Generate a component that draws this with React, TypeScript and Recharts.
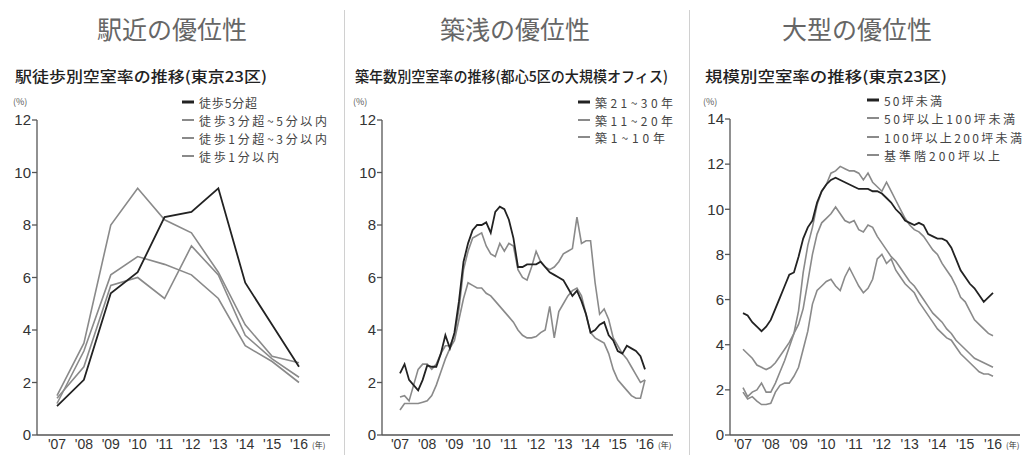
import React from 'react';
import { LineChart, Line, XAxis, YAxis } from 'recharts';

// ---- panel 1: station distance (annual) ----
const walkYears = ["'07", "'08", "'09", "'10", "'11", "'12", "'13", "'14", "'15", "'16"];
const walkOver5 = [1.1, 2.1, 5.4, 6.2, 8.3, 8.5, 9.4, 5.8, 4.2, 2.6];
const walk3to5 = [1.5, 3.5, 8.0, 9.4, 8.2, 7.7, 6.2, 4.2, 3.0, 2.75];
const walk1to3 = [1.4, 2.6, 5.7, 6.0, 5.2, 7.2, 6.1, 3.8, 2.9, 2.2];
const walkIn1 = [1.2, 3.2, 6.1, 6.8, 6.5, 6.1, 5.2, 3.4, 2.8, 2.0];

// ---- panel 2: building age (every 2 months, '07 - '16) ----
const age21to30 = [
  2.35, 2.7, 2.1, 1.9, 1.7, 2.1,
  2.65, 2.6, 2.6, 3.1, 3.8, 3.3,
  3.9, 5.1, 6.6, 7.3, 7.8, 8.0,
  8.0, 8.1, 7.7, 8.5, 8.7, 8.6,
  8.2, 7.5, 6.4, 6.4, 6.5, 6.5,
  6.5, 6.6, 6.4, 6.2, 6.1, 6.0,
  5.9, 5.6, 5.3, 5.5, 5.1, 4.6,
  3.9, 4.0, 4.2, 4.3, 3.8, 3.6,
  3.2, 3.1, 3.4, 3.3, 3.2, 3.0,
  2.5,
];
const age11to20 = [
  1.45, 1.5, 1.3, 1.9, 2.5, 2.7,
  2.7, 2.5, 2.7, 3.1, 3.4, 3.4,
  3.8, 4.8, 6.3, 7.0, 7.5, 7.6,
  7.7, 7.2, 6.9, 6.8, 7.3, 7.0,
  7.3, 7.2, 6.3, 6.0, 5.9, 6.4,
  7.0, 6.6, 6.4, 6.3, 6.4, 6.6,
  6.9, 7.0, 7.1, 8.3, 7.3, 7.4,
  7.4, 5.8, 4.6, 4.8, 4.4, 3.7,
  3.4, 3.1, 2.9, 2.6, 2.3, 2.0,
  2.1,
];
const age1to10 = [
  0.95, 1.2, 1.2, 1.2, 1.2, 1.25,
  1.3, 1.5, 1.9, 2.4, 2.9, 3.3,
  3.6, 4.4, 5.2, 5.8, 5.7, 5.6,
  5.6, 5.4, 5.3, 5.1, 4.9, 4.7,
  4.5, 4.3, 4.0, 3.8, 3.7, 3.7,
  3.75, 3.9, 4.0, 4.9, 3.7, 4.7,
  5.0, 5.3, 5.5, 5.6, 5.3, 4.6,
  3.9, 3.7, 3.6, 3.5, 3.1, 2.5,
  2.1, 1.9, 1.7, 1.5, 1.4, 1.4,
  2.1,
];

// ---- panel 3: floor size (every 2 months, '07 - '16) ----
const sizeUnder50 = [
  5.4, 5.3, 5.0, 4.8, 4.6, 4.8,
  5.1, 5.6, 6.1, 6.6, 7.1, 7.2,
  7.9, 8.7, 9.2, 9.5, 10.3, 10.8,
  11.1, 11.3, 11.4, 11.3, 11.2, 11.1,
  11.0, 10.9, 10.9, 10.9, 10.8, 10.8,
  10.7, 10.5, 10.3, 10.0, 9.8, 9.5,
  9.4, 9.3, 9.4, 9.3, 8.9, 8.8,
  8.7, 8.7, 8.6, 8.3, 7.8, 7.3,
  7.0, 6.7, 6.5, 6.2, 5.9, 6.1,
  6.3,
];
const size50to100 = [
  2.1, 1.7, 1.9, 2.0, 2.3, 1.9,
  1.9, 2.3, 2.8, 3.3, 3.9, 4.5,
  5.5, 7.2, 8.4, 9.2, 10.2, 10.8,
  11.1, 11.6, 11.7, 11.9, 11.8, 11.7,
  11.7, 11.6, 11.3, 11.6, 11.2, 11.0,
  10.8, 11.2, 10.8, 10.4, 10.0, 9.6,
  9.3, 9.1, 9.0, 8.8, 8.5, 8.2,
  8.0, 7.6, 7.3, 7.0, 6.6, 6.1,
  5.9, 5.5, 5.1, 4.9, 4.7, 4.5,
  4.4,
];
const size100to200 = [
  3.8, 3.6, 3.4, 3.1, 3.0, 2.9,
  3.0, 3.2, 3.5, 3.8, 4.1, 4.5,
  4.9, 5.6, 6.8, 8.0, 8.9, 9.4,
  9.6, 9.8, 10.1, 9.8, 9.5, 9.4,
  9.5, 9.1, 9.0, 9.3, 9.2, 8.8,
  8.5, 8.2, 7.9, 7.7, 7.4, 7.1,
  6.8, 6.6, 6.3, 6.0, 5.7, 5.4,
  5.2, 5.0, 4.7, 4.5, 4.2, 4.0,
  3.8, 3.6, 3.4, 3.3, 3.2, 3.1,
  3.0,
];
const sizeOver200 = [
  1.9, 1.6, 1.7, 1.5, 1.35, 1.35,
  1.4, 1.9, 2.2, 2.3, 2.3, 2.6,
  3.0, 3.8, 4.6, 5.8, 6.4, 6.6,
  6.8, 6.9, 6.6, 6.4, 7.0, 7.4,
  7.0, 6.6, 6.3, 6.5, 6.9, 7.8,
  8.0, 7.6, 7.8, 7.3, 7.0, 6.7,
  6.5, 6.3, 5.9, 5.6, 5.3, 5.0,
  4.7, 4.5, 4.3, 4.2, 3.9, 3.6,
  3.4, 3.2, 3.0, 2.8, 2.7, 2.7,
  2.6,
];

const yearTicks = [2007, 2008, 2009, 2010, 2011, 2012, 2013, 2014, 2015, 2016];
const pctTicks12 = [0, 2, 4, 6, 8, 10, 12];
const pctTicks14 = [0, 2, 4, 6, 8, 10, 12, 14];

const NUM_FONT = '"Liberation Sans", "Noto Sans CJK JP", sans-serif';
const JP_FONT = '"Noto Sans CJK JP", "Liberation Sans", sans-serif';
const DARK = '#222';
const GRAY = '#8a8a8a';
const AXIS = '#555';

type SeriesDef = { key: string; name: string; values: number[]; color: string; width: number };

const walkSeries: SeriesDef[] = [
  { key: 'a', name: '徒歩5分超', values: walkOver5, color: DARK, width: 1.8 },
  { key: 'b', name: '徒歩3分超~5分以内', values: walk3to5, color: GRAY, width: 1.6 },
  { key: 'c', name: '徒歩1分超~3分以内', values: walk1to3, color: GRAY, width: 1.6 },
  { key: 'd', name: '徒歩1分以内', values: walkIn1, color: GRAY, width: 1.6 },
];
const ageSeries: SeriesDef[] = [
  { key: 'a', name: '築21~30年', values: age21to30, color: DARK, width: 1.8 },
  { key: 'b', name: '築11~20年', values: age11to20, color: GRAY, width: 1.6 },
  { key: 'c', name: '築1~10年', values: age1to10, color: GRAY, width: 1.6 },
];
const sizeSeries: SeriesDef[] = [
  { key: 'a', name: '50坪未満', values: sizeUnder50, color: DARK, width: 1.8 },
  { key: 'b', name: '50坪以上100坪未満', values: size50to100, color: GRAY, width: 1.6 },
  { key: 'c', name: '100坪以上200坪未満', values: size100to200, color: GRAY, width: 1.6 },
  { key: 'd', name: '基準階200坪以上', values: sizeOver200, color: GRAY, width: 1.6 },
];

// annual table for panel 1, bi-monthly tables for panels 2 and 3
const walkData = walkYears.map((y, i) => {
  const row: Record<string, string | number> = { year: y };
  walkSeries.forEach(s => { row[s.key] = s.values[i]; });
  return row;
});
const toTimeRows = (series: SeriesDef[]) =>
  series[0].values.map((_, i) => {
    const row: Record<string, number> = { t: 2007 + i / 6 };
    series.forEach(s => { row[s.key] = s.values[i]; });
    return row;
  });
const ageData = toTimeRows(ageSeries);
const sizeData = toTimeRows(sizeSeries);

const YearTick = (props: any) => {
  const { x, y, index } = props;
  const last = index === walkYears.length - 1;
  return (
    <g>
      <text x={x} y={y} dy={10} textAnchor="middle" fontSize={14} fill="#333" fontFamily={NUM_FONT}>
        {walkYears[index]}
      </text>
      {last && (
        <text x={x + 13} y={y} dy={9} fontSize={8} fill="#333" fontFamily={JP_FONT}>
          (年)
        </text>
      )}
    </g>
  );
};

interface PanelProps {
  left: number;
  title: string;
  titleX: number;
  subtitle: string;
  subX: number;
  subW: number;
  legendX: number;
  legendY: number[];
  legendW: number[];
  series: SeriesDef[];
  data: Record<string, string | number>[];
  xKey: string;
  numericX: boolean;
  yMax: number;
  yTicks: number[];
  margin: { top: number; right: number; left: number; bottom: number };
  pad: { left: number; right: number };
}

// header texts drawn in one svg per panel so widths can be matched with textLength
const Header: React.FC<PanelProps> = p => (
  <svg width={1024} height={170} style={{ position: 'absolute', left: 0, top: 0, pointerEvents: 'none' }}>
    <text x={p.titleX} y={28} textAnchor="middle" dominantBaseline="central" fontSize={25} fill="#666" fontFamily={JP_FONT}>
      {p.title}
    </text>
    <text
      x={p.subX}
      y={75}
      dominantBaseline="central"
      fontSize={15}
      fontWeight={500}
      fill="#222"
      fontFamily={JP_FONT}
      textLength={p.subW}
      lengthAdjust="spacingAndGlyphs"
    >
      {p.subtitle}
    </text>
    <text x={p.subX - 2} y={101} dominantBaseline="central" fontSize={9} fill="#555" fontFamily={JP_FONT}>
      (%)
    </text>
    {p.series.map((s, i) => (
      <g key={s.key}>
        <line x1={p.legendX} x2={p.legendX + 12} y1={p.legendY[i]} y2={p.legendY[i]} stroke={s.color} strokeWidth={i === 0 ? 3 : 2} />
        <text
          x={p.legendX + 17}
          y={p.legendY[i]}
          dominantBaseline="central"
          fontSize={12}
          fill="#444"
          fontFamily={JP_FONT}
          textLength={p.legendW[i]}
          lengthAdjust="spacing"
        >
          {s.name}
        </text>
      </g>
    ))}
  </svg>
);

const Panel: React.FC<PanelProps> = p => (
  <>
    <Header {...p} />
    <div style={{ position: 'absolute', left: p.left, top: 0 }}>
      <LineChart width={341} height={455} data={p.data} margin={p.margin}>
        {p.numericX ? (
          <XAxis
            dataKey={p.xKey}
            type="number"
            domain={[2007, 2016]}
            ticks={yearTicks}
            interval={0}
            padding={p.pad}
            height={20}
            tickLine={false}
            tickSize={2}
            stroke={AXIS}
            strokeWidth={1.3}
            tick={<YearTick />}
          />
        ) : (
          <XAxis
            dataKey={p.xKey}
            interval={0}
            padding={p.pad}
            height={20}
            tickLine={false}
            tickSize={2}
            stroke={AXIS}
            strokeWidth={1.3}
            tick={<YearTick />}
          />
        )}
        <YAxis
          type="number"
          domain={[0, p.yMax]}
          ticks={p.yTicks}
          interval={0}
          width={30}
          tickSize={5}
          tickMargin={1}
          stroke={AXIS}
          strokeWidth={1.3}
          tick={{ fontSize: 15, fill: '#333', fontFamily: NUM_FONT }}
        />
        {p.series
          .slice()
          .reverse()
          .map(s => (
            <Line
              key={s.key}
              type="linear"
              dataKey={s.key}
              name={s.name}
              stroke={s.color}
              strokeWidth={s.width}
              dot={false}
              isAnimationActive={false}
            />
          ))}
      </LineChart>
    </div>
  </>
);

export default function App() {
  return (
    <div style={{ position: 'absolute', left: 0, top: 0, width: 1024, height: 455, background: '#fff', overflow: 'hidden' }}>
      <div style={{ position: 'absolute', left: 344, top: 10, width: 1, height: 445, background: '#d0d0d0' }} />
      <div style={{ position: 'absolute', left: 689, top: 10, width: 1, height: 445, background: '#d0d0d0' }} />
      <Panel
        left={0}
        title="駅近の優位性"
        titleX={172}
        subtitle="駅徒歩別空室率の推移(東京23区)"
        subX={15}
        subW={252}
        legendX={182}
        legendY={[102, 120, 138, 156]}
        legendW={[58, 128, 128, 80]}
        series={walkSeries}
        data={walkData}
        xKey="year"
        numericX={false}
        yMax={12}
        yTicks={pctTicks12}
        margin={{ top: 120, right: 11, left: 7, bottom: 0 }}
        pad={{ left: 20, right: 31 }}
      />
      <Panel
        left={341}
        title="築浅の優位性"
        titleX={515}
        subtitle="築年数別空室率の推移(都心5区の大規模オフィス)"
        subX={355}
        subW={313}
        legendX={578}
        legendY={[102, 120, 137]}
        legendW={[78, 78, 70]}
        series={ageSeries}
        data={ageData}
        xKey="t"
        numericX={true}
        yMax={12}
        yTicks={pctTicks12}
        margin={{ top: 120, right: 9, left: 11, bottom: 0 }}
        pad={{ left: 18, right: 28 }}
      />
      <Panel
        left={683}
        title="大型の優位性"
        titleX={857}
        subtitle="規模別空室率の推移(東京23区)"
        subX={705}
        subW={242}
        legendX={867}
        legendY={[100, 118, 137, 155]}
        legendW={[58, 131, 138, 116]}
        series={sizeSeries}
        data={sizeData}
        xKey="t"
        numericX={true}
        yMax={14}
        yTicks={pctTicks14}
        margin={{ top: 119, right: 4, left: 17, bottom: 0 }}
        pad={{ left: 13, right: 27 }}
      />
    </div>
  );
}
